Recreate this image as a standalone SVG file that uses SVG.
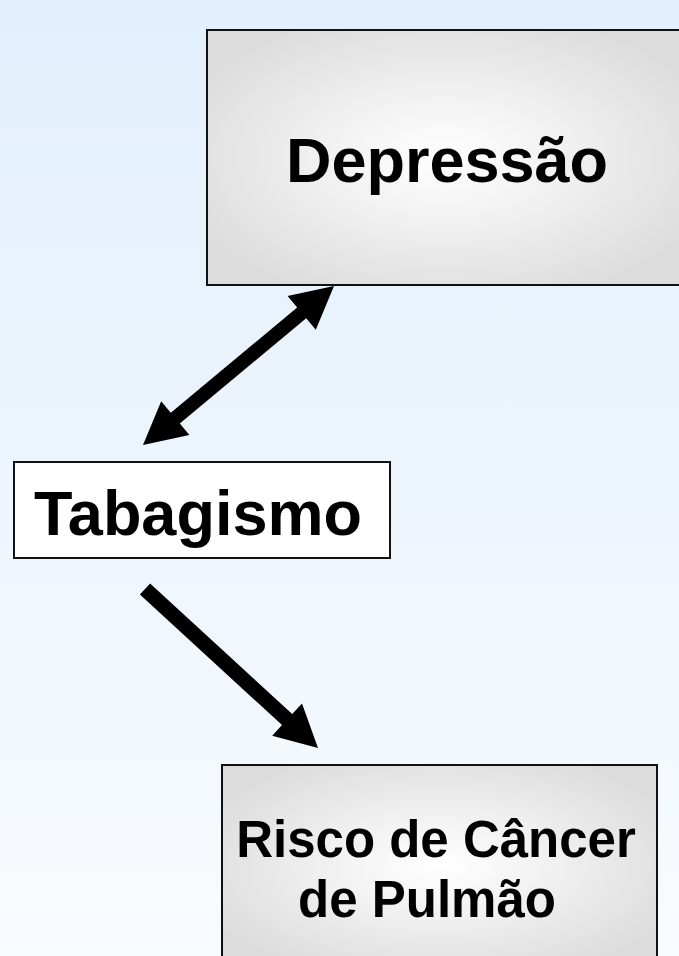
<svg xmlns="http://www.w3.org/2000/svg" width="679" height="956" viewBox="0 0 679 956">
<defs>
<linearGradient id="bg" x1="0" y1="0" x2="0" y2="1">
<stop offset="0" stop-color="#E2EFFC"/>
<stop offset="1" stop-color="#F8FBFE"/>
</linearGradient>
<radialGradient id="box" cx="0.5" cy="0.5" r="0.6">
<stop offset="0" stop-color="#FFFFFF"/>
<stop offset="0.45" stop-color="#F0F0F0"/>
<stop offset="1" stop-color="#DCDCDC"/>
</radialGradient>
<style>
.lbl{font-family:"Liberation Sans",Arial,sans-serif;font-weight:bold;fill:#000;text-anchor:middle}
.gbox{fill:url(#box);stroke:#111;stroke-width:2}
.arrow{fill:#000;stroke:none}
</style>
</defs>
<rect x="0" y="0" width="679" height="956" fill="url(#bg)"/>
<g id="depressao">
<rect class="gbox" x="207" y="30" width="475" height="255"/>
<text class="lbl" x="447" y="182" font-size="63">Depressão</text>
</g>
<g id="tabagismo">
<rect x="14" y="462" width="376" height="96" fill="#fff" stroke="#111" stroke-width="2"/>
<text class="lbl" x="198" y="535" font-size="63">Tabagismo</text>
</g>
<g id="risco">
<rect class="gbox" x="222" y="765" width="435" height="200"/>
<text class="lbl" x="436" y="857" font-size="51">Risco de Câncer</text>
<text class="lbl" x="427" y="917" font-size="51">de Pulmão</text>
</g>
<g id="connectors">
<path class="arrow" d="M334,286 L315.8,329.8 L306.2,318.3 L179.8,423.5 L189.4,435 L143,445 L161.2,401.2 L170.8,412.7 L297.2,307.5 L287.6,296 Z"/>
<path class="arrow" d="M150.1,583.5 L292.2,714.1 L302,703.4 L318,748 L272.2,735.8 L282,725.1 L139.9,594.5 Z"/>
</g>
</svg>
